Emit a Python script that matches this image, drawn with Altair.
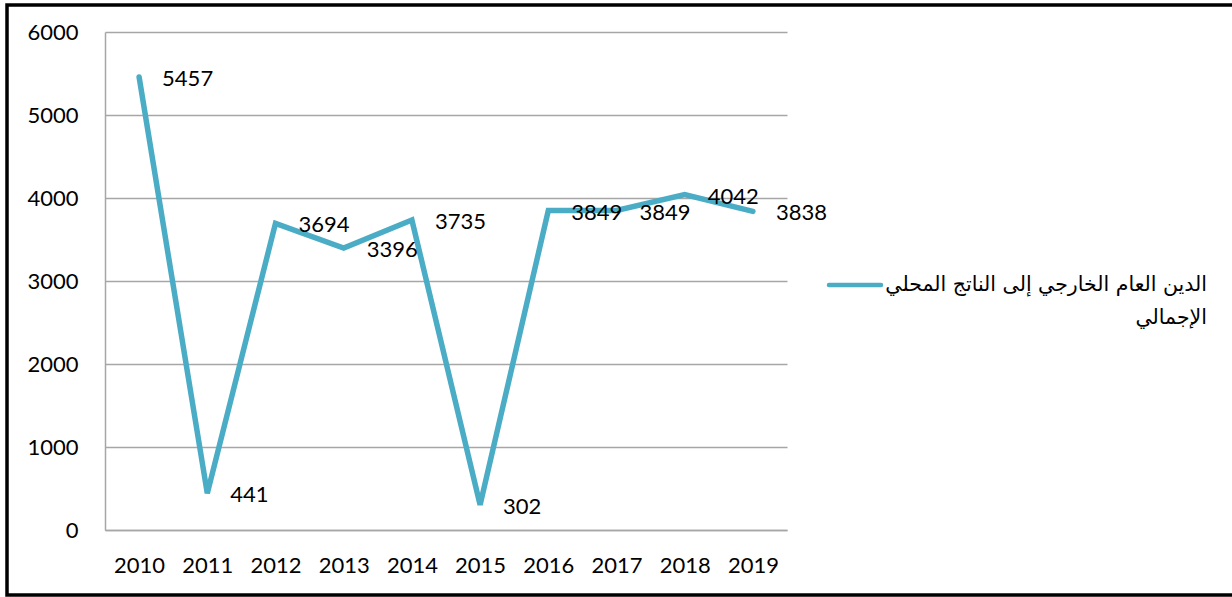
import altair as alt
import pandas as pd

years = ["2010", "2011", "2012", "2013", "2014", "2015", "2016", "2017", "2018", "2019"]
values = [5457, 441, 3694, 3396, 3735, 302, 3849, 3849, 4042, 3838]
series_name = "الدين العام الخارجي إلى الناتج المحلي\nالإجمالي"

df = pd.DataFrame({"year": years, "value": values})
legend_df = pd.DataFrame({"name": [series_name]})

COLOR = "#4BACC6"
FONT = "Lato"

x_enc = alt.X("year:O", sort=years, title=None,
              axis=alt.Axis(labelAngle=0, labelFont=FONT, labelFontSize=22, labelColor="#000000",
                            labelPadding=25, ticks=False, domain=True, domainColor="#A6A6A6",
                            domainWidth=1.5, grid=False))
y_enc = alt.Y("value:Q", title=None, scale=alt.Scale(domain=[0, 6000], nice=False),
              axis=alt.Axis(values=[0, 1000, 2000, 3000, 4000, 5000, 6000], format="d", labelFont=FONT,
                            labelFontSize=22, labelColor="#000000", labelPadding=27, ticks=False,
                            domain=True, domainColor="#A6A6A6", domainWidth=1.5,
                            grid=True, gridColor="#A6A6A6", gridWidth=1.5))

base = alt.Chart(df)
line = base.mark_line(color=COLOR, strokeWidth=5.5, strokeJoin="miter", strokeCap="round").encode(x=x_enc, y=y_enc)
labels = base.mark_text(align="left", baseline="middle", dx=23, dy=2, font=FONT, fontSize=22, color="#000000").encode(
    x=alt.X("year:O", sort=years), y="value:Q", text="value:Q")

leg_line = alt.Chart(legend_df).mark_rule(color=COLOR, strokeWidth=4.5, strokeCap="round").encode(
    x=alt.value(724), x2=alt.value(776), y=alt.value(253))
leg_text = alt.Chart(legend_df).mark_text(align="right", baseline="middle", font="DejaVu Sans", fontSize=20.5,
                                           lineBreak="\n", lineHeight=33, color="#000000").encode(
    x=alt.value(1102), y=alt.value(253), text="name:N")

frame = alt.Chart(legend_df).mark_rect(fill=None, stroke="#000000", strokeWidth=3.5).encode(
    x=alt.value(-98), x2=alt.value(1140), y=alt.value(-27), y2=alt.value(563))

chart = alt.layer(line, labels, leg_line, leg_text, frame).properties(
    width=682, height=498,
    autosize=alt.AutoSizeParams(type="none"),
    padding={"left": 105, "top": 32, "right": 445, "bottom": 67},
    background="#FFFFFF",
).configure_view(stroke=None)

chart.save("out.html", embed_options={"renderer": "svg", "actions": False})
